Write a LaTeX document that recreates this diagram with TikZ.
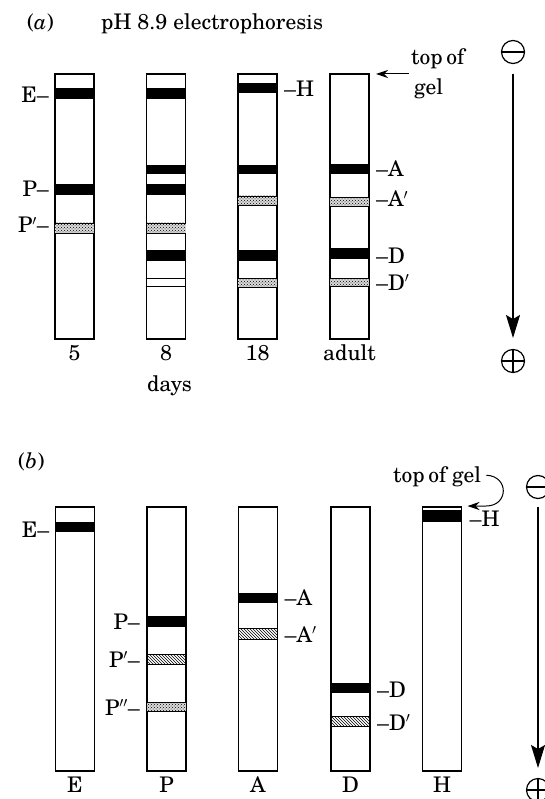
\documentclass[tikz,border=0pt]{standalone}
\usepackage{fontspec}
\setmainfont{texgyreschola-regular.otf}[ItalicFont=texgyreschola-italic.otf]
\usetikzlibrary{patterns,arrows.meta,calc}

% band painters: gel node, top y, bottom y
\newcommand\darkband[3]{\fill[darkband] (#1.west |- 0,#2) rectangle (#1.east |- 0,#3);}
\newcommand\dotband[3]{%
  \fill[black!14] (#1.west |- 0,#2) rectangle (#1.east |- 0,#3);
  \path[pattern=crosshatch dots] (#1.west |- 0,#2) rectangle (#1.east |- 0,#3);
  \draw[bandedge] (#1.west |- 0,#2) -- (#1.east |- 0,#2) (#1.west |- 0,#3) -- (#1.east |- 0,#3);}
\newcommand\hatchband[3]{%
  \path[pattern=north west lines] (#1.west |- 0,#2) rectangle (#1.east |- 0,#3);
  \draw[bandedge] (#1.west |- 0,#2) -- (#1.east |- 0,#2) (#1.west |- 0,#3) -- (#1.east |- 0,#3);}
\newcommand\emptyband[3]{%
  \draw[bandedge] (#1.west |- 0,#2) -- (#1.east |- 0,#2) (#1.west |- 0,#3) -- (#1.east |- 0,#3);}

\begin{document}
\begin{tikzpicture}[x=1pt,y=-1pt,
  gel/.style={draw, line width=1.7pt, fill=white, inner sep=0pt, outer sep=0pt, minimum width=39pt},
  lbl/.style={font=\fontsize{21.5}{25}\selectfont, inner sep=0pt},
  darkband/.style={fill=black},
  bandedge/.style={line width=0.8pt},
  electrode/.style={draw, circle, line width=1.2pt, minimum size=23pt, inner sep=0pt, outer sep=0pt},
  sign/.style={line width=1.2pt},
  flow/.style={line width=1.3pt, -{Stealth[length=23pt,width=14pt,inset=4pt]}},
  pointer/.style={line width=1pt, -{Stealth[length=12pt,width=8pt]}},
]
\useasboundingbox (0,0) rectangle (544,799);
\fill[white] (0,0) rectangle (544,799);

% ---------------- (a) pH 8.9 electrophoresis ----------------
\node[lbl, anchor=base west] (tagA) at (27,29.5) {(\textit{a})};
\node[lbl, anchor=base west] (titleA) at (101,29.5) {pH 8.9 electrophoresis};

\node[gel, minimum height=265pt] (a1) at (74.5,206.5) {};
\node[gel, minimum height=265pt] (a2) at (166,206.5) {};
\node[gel, minimum height=265pt] (a3) at (257.5,206.5) {};
\node[gel, minimum height=265pt] (a4) at (349.5,206.5) {};

\darkband{a1}{88}{99}
\darkband{a1}{184}{195}
\dotband{a1}{223}{233}

\darkband{a2}{88}{99}
\darkband{a2}{165}{174}
\darkband{a2}{184}{195}
\dotband{a2}{223}{233}
\darkband{a2}{250}{261}
\emptyband{a2}{278}{286}

\darkband{a3}{83}{93}
\darkband{a3}{165}{174}
\dotband{a3}{196}{205}
\darkband{a3}{250}{261}
\dotband{a3}{278}{287}

\darkband{a4}{164}{174}
\dotband{a4}{197}{206}
\darkband{a4}{248}{259}
\dotband{a4}{278}{286}

\node[lbl, anchor=base east, xshift=-6pt] (aE) at (a1.west |- 0,103) {E--};
\node[lbl, anchor=base east, xshift=-6pt] (aP) at (a1.west |- 0,197) {P--};
\node[lbl, anchor=base east, xshift=-6pt] (aPp) at (a1.west |- 0,233) {P$'$--};
\node[lbl, anchor=base west, xshift=7pt] (aH) at (a3.east |- 0,97) {--H};
\node[lbl, anchor=base west, xshift=7pt] (aA) at (a4.east |- 0,177) {--A};
\node[lbl, anchor=base west, xshift=7pt] (aAp) at (a4.east |- 0,207) {--A$'$};
\node[lbl, anchor=base west, xshift=7pt] (aD) at (a4.east |- 0,263) {--D};
\node[lbl, anchor=base west, xshift=7pt] (aDp) at (a4.east |- 0,290) {--D$'$};

\node[lbl, anchor=base] (d5) at (a1.south |- 0,360) {5};
\node[lbl, anchor=base] (d8) at (a2.south |- 0,360) {8};
\node[lbl, anchor=base] (d18) at (a3.south |- 0,360) {18};
\node[lbl, anchor=base] (dad) at (a4.south |- 0,360) {adult};
\node[lbl, anchor=base] (days) at (169.5,391) {days};

\node[lbl, anchor=base west] (topA1) at (411,65) {top\,of};
\node[lbl, anchor=base west] (topA2) at (414,95) {gel};
\draw[pointer] ($(topA1.west |- a4.north)+(-2,0)$) -- ($(a4.north east)+(7,0)$);

\node[electrode] (negA) at (513,52) {};
\draw[sign] (negA.west) -- (negA.east);
\node[electrode] (posA) at (513,361) {};
\draw[sign] (posA.west) -- (posA.east) (posA.north) -- (posA.south);
\coordinate (flowA0) at (513,74);
\coordinate (flowA1) at (513,338);
\draw[flow] (flowA0) -- (flowA1);

% ---------------- (b) ----------------
\node[lbl, anchor=base west] (tagB) at (18,468) {(\textit{b})};

\node[gel, minimum height=264pt] (b1) at (75,639) {};
\node[gel, minimum height=264pt] (b2) at (166.5,639) {};
\node[gel, minimum height=264pt] (b3) at (258,639) {};
\node[gel, minimum height=264pt] (b4) at (350.5,639) {};
\node[gel, minimum height=264pt] (b5) at (442,639) {};

\darkband{b1}{522}{532}

\darkband{b2}{616}{627}
\hatchband{b2}{654}{664}
\dotband{b2}{702}{711}

\darkband{b3}{593}{603}
\hatchband{b3}{628}{639}

\darkband{b4}{683}{693}
\hatchband{b4}{716}{726}

\darkband{b5}{510}{522}

\node[lbl, anchor=base east, xshift=-6pt] (bE) at (b1.west |- 0,537) {E--};
\node[lbl, anchor=base east, xshift=-7pt] (bP) at (b2.west |- 0,629) {P--};
\node[lbl, anchor=base east, xshift=-7pt] (bPp) at (b2.west |- 0,667) {P$'$--};
\node[lbl, anchor=base east, xshift=-7pt] (bPpp) at (b2.west |- 0,715) {P$''$--};
\node[lbl, anchor=base west, xshift=7pt] (bA) at (b3.east |- 0,605) {--A};
\node[lbl, anchor=base west, xshift=7pt] (bAp) at (b3.east |- 0,642) {--A$'$};
\node[lbl, anchor=base west, xshift=7pt] (bD) at (b4.east |- 0,697) {--D};
\node[lbl, anchor=base west, xshift=7pt] (bDp) at (b4.east |- 0,730) {--D$'$};
\node[lbl, anchor=base west, xshift=8pt] (bH) at (b5.east |- 0,526) {--H};

\node[lbl, anchor=base] (nE) at (b1.south |- 0,792) {E};
\node[lbl, anchor=base] (nP) at (b2.south |- 0,792) {P};
\node[lbl, anchor=base] (nA) at (b3.south |- 0,792) {A};
\node[lbl, anchor=base] (nD) at (b4.south |- 0,792) {D};
\node[lbl, anchor=base] (nH) at (b5.south |- 0,792) {H};

\node[lbl, anchor=base west] (topB) at (393,482) {top\,of gel};
\draw[pointer] ($(topB.east)+(5,-1)$) .. controls (509,476) and (509,506) .. (486,506)
  -- ($(b5.north east)+(6,-1)$);

\node[electrode] (negB) at (538,487) {};
\draw[sign] (negB.west) -- (negB.east);
\node[electrode] (posB) at (538,790) {};
\draw[sign] (posB.west) -- (posB.east) (posB.north) -- (posB.south);
\coordinate (flowB0) at (538,507);
\coordinate (flowB1) at (538,768);
\draw[flow] (flowB0) -- (flowB1);
\end{tikzpicture}
\end{document}
